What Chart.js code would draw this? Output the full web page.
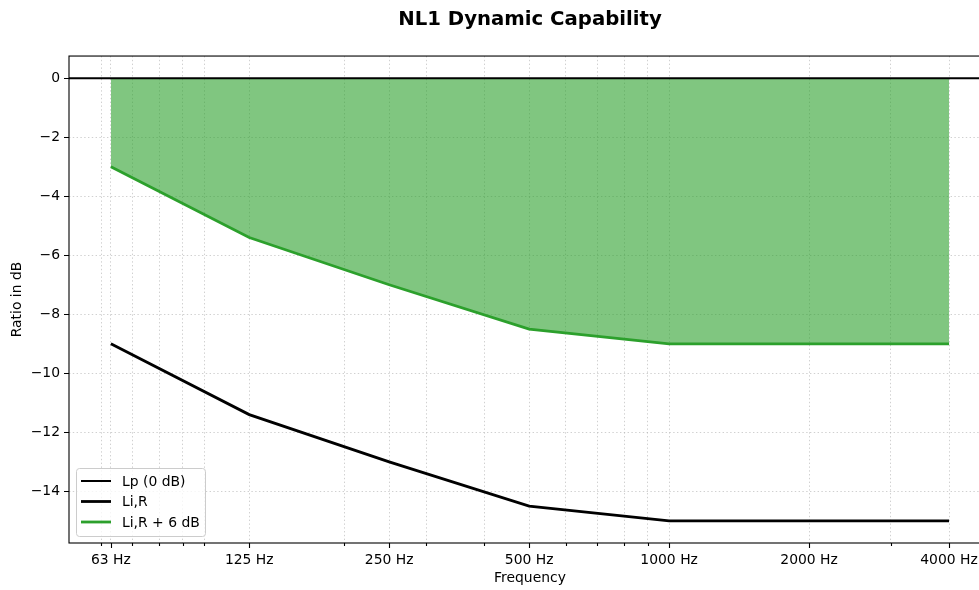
<!DOCTYPE html>
<html>
<head>
<meta charset="utf-8">
<script src="https://cdn.jsdelivr.net/npm/chart.js@4.4.1/dist/chart.umd.min.js"></script>
<style>
html, body { margin: 0; padding: 0; overflow: hidden; background: #fff; }
#wrap { width: 1060px; height: 590px; }
</style>
</head>
<body>
<div id="wrap"><canvas id="c"></canvas></div>
<script>
// ---- data ----
const FREQS = [63, 125, 250, 500, 1000, 2000, 4000];
const LIR = [-9, -11.4, -13, -14.5, -15, -15, -15];
const LIR_PLUS6 = [-3, -5.4, -7, -8.5, -9, -9, -9];
const LP_LEVEL = 0;
const X_MAJOR_TICKS = [63, 125, 250, 500, 1000, 2000, 4000];
const X_MINOR_TICKS = [60, 70, 80, 90, 100, 200, 300, 400, 600, 700, 800, 900, 3000];
const X_LABELS = ['63 Hz', '125 Hz', '250 Hz', '500 Hz', '1000 Hz', '2000 Hz', '4000 Hz'];
const Y_TICKS = [-14, -12, -10, -8, -6, -4, -2, 0];
const X_MIN = 51.2, X_MAX = 4924;
const Y_MIN = -15.75, Y_MAX = 0.75;

const FONT = 'DejaVu Sans';
const GRID = 'rgba(176,176,176,0.6)';

const lirPts = FREQS.map((f, i) => ({x: f, y: LIR[i]}));
const lir6Pts = FREQS.map((f, i) => ({x: f, y: LIR_PLUS6[i]}));
const lpPts = [{x: X_MIN, y: LP_LEVEL}, {x: X_MAX, y: LP_LEVEL}];

const frameAndTicks = {
  id: 'frameAndTicks',
  afterDatasetsDraw(chart) {
    const {ctx, chartArea: a, scales: {x, y}} = chart;
    ctx.save();
    ctx.strokeStyle = '#000';
    ctx.lineWidth = 1.1;
    ctx.setLineDash([]);
    ctx.strokeRect(a.left, a.top, a.right - a.left, a.bottom - a.top);
    ctx.beginPath();
    X_MAJOR_TICKS.forEach(v => { const px = Math.round(x.getPixelForValue(v)) + 0.5; ctx.moveTo(px, a.bottom); ctx.lineTo(px, a.bottom + 5); });
    X_MINOR_TICKS.forEach(v => { const px = Math.round(x.getPixelForValue(v)) + 0.5; ctx.moveTo(px, a.bottom); ctx.lineTo(px, a.bottom + 3); });
    Y_TICKS.forEach(v => { const py = Math.round(y.getPixelForValue(v)) + 0.5; ctx.moveTo(a.left, py); ctx.lineTo(a.left - 5, py); });
    ctx.stroke();
    ctx.restore();
  }
};

const innerLegend = {
  id: 'innerLegend',
  afterDraw(chart) {
    const {ctx, chartArea: a} = chart;
    const ds = chart.data.datasets;
    const bx = a.left + 7, bw = 129, rowH = 20.5, bh = 68;
    const by = a.bottom - 7 - bh;
    ctx.save();
    ctx.setLineDash([]);
    ctx.fillStyle = 'rgba(255,255,255,0.8)';
    ctx.strokeStyle = '#cccccc';
    ctx.lineWidth = 1;
    ctx.beginPath();
    ctx.roundRect(bx + 0.5, by + 0.5, bw, bh, 3);
    ctx.fill();
    ctx.stroke();
    ctx.font = '13.9px "' + FONT + '"';
    ctx.textBaseline = 'middle';
    ds.forEach((d, i) => {
      const cy = by + 13 + i * rowH;
      ctx.strokeStyle = d.borderColor;
      ctx.lineWidth = d.borderWidth;
      ctx.beginPath();
      ctx.moveTo(bx + 5, cy);
      ctx.lineTo(bx + 35, cy);
      ctx.stroke();
      ctx.fillStyle = '#000';
      ctx.fillText(d.label, bx + 46, cy + 1);
    });
    ctx.restore();
  }
};

new Chart(document.getElementById('c'), {
  type: 'line',
  data: {
    datasets: [
      { label: 'Lp (0 dB)', data: lpPts, borderColor: '#000', borderWidth: 2, pointRadius: 0, fill: false },
      { label: 'Li,R', data: lirPts, borderColor: '#000', borderWidth: 2.8, pointRadius: 0, fill: false },
      { label: 'Li,R + 6 dB', data: lir6Pts, borderColor: '#2ca02c', borderWidth: 2.8, pointRadius: 0,
        fill: 'origin', backgroundColor: 'rgba(44,160,44,0.6)' }
    ]
  },
  options: {
    responsive: true,
    maintainAspectRatio: false,
    animation: false,
    events: [],
    layout: { padding: 0 },
    plugins: {
      legend: { display: false },
      tooltip: { enabled: false },
      title: {
        display: true,
        text: 'NL1 Dynamic Capability',
        color: '#000',
        font: { family: FONT, size: 19.7, weight: 'bold' },
        padding: { top: 8, bottom: 24.4 }
      }
    },
    scales: {
      x: {
        type: 'logarithmic',
        min: X_MIN, max: X_MAX,
        afterBuildTicks(s) {
          const all = X_MAJOR_TICKS.concat(X_MINOR_TICKS).sort((p, q) => p - q);
          s.ticks = all.map(v => ({value: v, major: X_MAJOR_TICKS.includes(v)}));
        },
        afterFit(s) { s.height = 47; },
        ticks: {
          autoSkip: false, maxRotation: 0, padding: 9, color: '#000',
          font: { family: FONT, size: 13.9 },
          callback(v) { const i = X_MAJOR_TICKS.indexOf(v); return i >= 0 ? X_LABELS[i] : ''; }
        },
        grid: { color: GRID, drawTicks: false, lineWidth: 1 },
        border: { display: false, dash: [1.4, 2.4] },
        title: { display: true, text: 'Frequency', color: '#000', font: { family: FONT, size: 13.9 }, padding: { top: 0, bottom: 3 } }
      },
      y: {
        position: 'left',
        min: Y_MIN, max: Y_MAX,
        afterBuildTicks(s) { s.ticks = Y_TICKS.map(v => ({value: v})); },
        afterFit(s) { s.width = 69; },
        ticks: {
          padding: 9, color: '#000',
          font: { family: FONT, size: 13.9 },
          callback(v) { return v < 0 ? '\u2212' + Math.abs(v) : String(v); }
        },
        grid: { color: GRID, drawTicks: false, lineWidth: 1 },
        border: { display: false, dash: [1.4, 2.4] },
        title: { display: true, text: 'Ratio in dB', color: '#000', font: { family: FONT, size: 13.9 }, padding: { top: 9, bottom: 0 } }
      },
      yRightSpacer: {
        position: 'right',
        min: Y_MIN, max: Y_MAX,
        afterFit(s) { s.width = 69; },
        ticks: { display: false },
        grid: { display: false, drawTicks: false },
        border: { display: false }
      }
    }
  },
  plugins: [frameAndTicks, innerLegend]
});
</script>
</body>
</html>
